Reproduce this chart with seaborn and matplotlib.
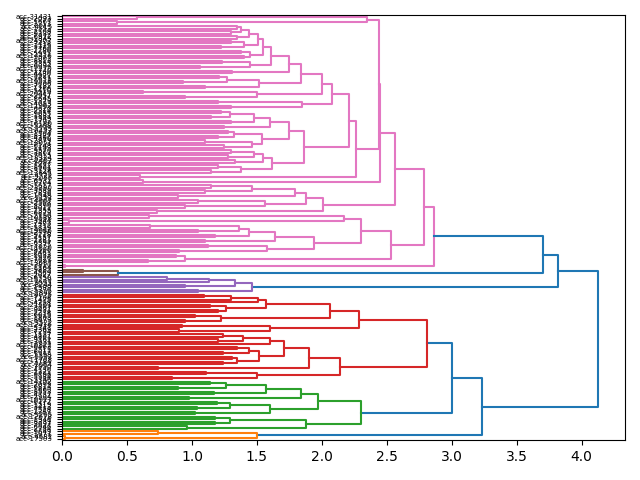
import numpy as np
import pandas as pd
import matplotlib
matplotlib.use("Agg")
import matplotlib.pyplot as plt
import seaborn as sns

# Rows are read top to bottom; a row holds one or two accessions.
# *_pair: height where the two accessions of a row join (None = single accession)
# *_join: height where a row joins the row below it
pink_pair = [0.58, 0.42, 1.35, 1.30, 1.35, 1.30, 1.22, 1.38, 1.40, 1.23,
             1.06, 1.31, 1.21, 0.93, 1.10, 0.62, 0.95, 1.20, 1.30, 1.22,
             1.15, 1.30, 1.25, 1.28, 1.20, 1.10, 1.25, 1.30, 1.28, 1.33,
             1.20, 1.15, 0.60, 0.62, 1.15, 1.10, 0.89, 1.05, 0.95, 0.73,
             0.67, 0.05, 0.68, 1.05, 1.18, 1.10, 1.12, 0.90, 0.88, 0.66,
             0.02]
pink_join = [2.35, 2.44, 1.38, 1.44, 1.51, 1.40, 1.55, 1.45, 1.61, 1.45,
             1.75, 1.84, 1.27, 1.52, 2.00, 1.50, 2.08, 1.85, 2.21, 1.29,
             1.48, 1.60, 1.75, 1.32, 1.54, 1.46, 1.86, 1.48, 1.55, 1.62,
             1.38, 2.26, 2.45, 2.56, 1.46, 1.79, 1.88, 1.56, 2.01, 2.79,
             2.17, 2.30, 1.36, 1.44, 1.64, 1.94, 1.58, 2.53, 0.95, 2.86]

brown_pair = [0.16, None]
brown_join = [0.43]

purple_pair = [0.81, None, 0.95, 1.05]
purple_join = [1.13, 1.33, 1.46]

red_pair = [1.09, None, None, 1.14, 1.20, 1.02, 0.95, 0.92, 0.90, 1.24,
            1.20, None, 1.35, 1.24, 1.31, 1.24, 0.74, 1.11, 0.85]
red_join = [1.30, 1.51, 1.57, 1.26, 2.06, 1.22, 2.29, 1.60, 2.81, 1.39,
            1.60, 1.71, 1.44, 1.52, 1.35, 1.90, 2.14, 1.50]

green_pair = [1.14, 0.89, 1.17, 0.98, 1.19, 1.04, 1.02, 1.18, 1.18, 0.96]
green_join = [1.26, 1.57, 1.84, 1.97, 1.29, 1.60, 2.30, 1.29, 1.88]

orange_pair = [0.74, 0.02]
orange_join = [1.50]

# pink|brown, brown|purple, purple|red, red|green, green|orange
cluster_join = [3.70, 3.82, 4.13, 3.00, 3.23]

leaf_ids = """
31431 2093 1667 2213 4215 1553 2108 9337 6972 1845
24307 3418 1125 7760 2286 5931 14416 1002 8813 3355
6094 12270 1740 4480 9921 2631 15518 3006 7182 1266
5410 20417 2957 8645 1379 4083 11962 6620 2314 9055
1881 7349 3702 16180 5268 2745 10433 1504 8127 4396
2879 13051 6248 1193 9570 3861 7015 18324 2402 5687
1432 8961 3128 12845 4722 2055 6531 9704 1617 23390
3589 7836 1048 5152 14967 2568 8390 4011 1355 6879
2190 10588 3944 7463 1712 5829 19046 2736 9218 4157
1281 6397 3275 11320 8506 2461 5033 1926 7621 13687
3810 1164 9883 4569 2027 6750 15239 3093 8244 1589
5376 2842 10075 7108 1475 4298 21561 3667 9431 2238
6015 1803 8679 3522 12416 5747 2369 7294 1137 4861
9162 3031 16822 6463 2511 8017 1398 5592 11708 3784
2654 7950 4130 1221 9796 5984 3346 14102 2099 6814
1660 8553 4737 2904 10927 6172 1519 3413 7528 2287
5205 12678 1946 8331 3697 6046 2784 9649 1071 4582
17503
""".split()

pal = sns.color_palette("tab10").as_hex()
clusters = [
    (pink_pair, pink_join, pal[6]),
    (brown_pair, brown_join, pal[5]),
    (purple_pair, purple_join, pal[4]),
    (red_pair, red_join, pal[3]),
    (green_pair, green_join, pal[2]),
    (orange_pair, orange_join, pal[1]),
]

# flatten to the merge height between every pair of neighbouring leaves
gaps, leaf_color = [], []
for ci, (pairs, joins, col) in enumerate(clusters):
    if ci > 0:
        gaps.append(cluster_join[ci - 1])
    for ri, p in enumerate(pairs):
        if ri > 0:
            gaps.append(joins[ri - 1])
        if p is None:
            leaf_color.append(col)
        else:
            gaps.append(p)
            leaf_color += [col, col]

n = len(leaf_color)
labels = ["acc-" + s for s in leaf_ids]
thr = 0.7 * max(gaps)
leaf_y = [10 * (n - 1 - i) + 5 for i in range(n)]

links = []


def build(lo, hi):
    if lo == hi:
        return 0.0, leaf_y[lo]
    k = lo + int(np.argmax(gaps[lo:hi]))
    h = gaps[k]
    hl, yl = build(lo, k)
    hr, yr = build(k + 1, hi)
    col = leaf_color[lo] if h < thr else pal[0]
    links.append(([hl, h, h, hr], [yl, yl, yr, yr], col))
    return h, (yl + yr) / 2


build(0, n - 1)

recs = []
for li, (xs, ys, col) in enumerate(links):
    for x, y in zip(xs, ys):
        recs.append({"link": li, "height": x, "pos": y, "color": col})
df = pd.DataFrame(recs)

fig, ax = plt.subplots(figsize=(6.4, 4.8), dpi=100)
fig.subplots_adjust(left=0.097, right=0.977, bottom=0.083, top=0.969)

sns.lineplot(data=df, x="height", y="pos", units="link", estimator=None,
             sort=False, hue="color", palette={c: c for c in df["color"].unique()},
             linewidth=1.5, legend=False, ax=ax)

ax.set_xlim(0, max(gaps) * 1.05)
ax.set_ylim(0, 10 * n)
ax.set_yticks(leaf_y)
ax.set_yticklabels(labels, fontsize=5)
ax.set_xlabel("")
ax.set_ylabel("")

fig.savefig("out.png", dpi=100)
